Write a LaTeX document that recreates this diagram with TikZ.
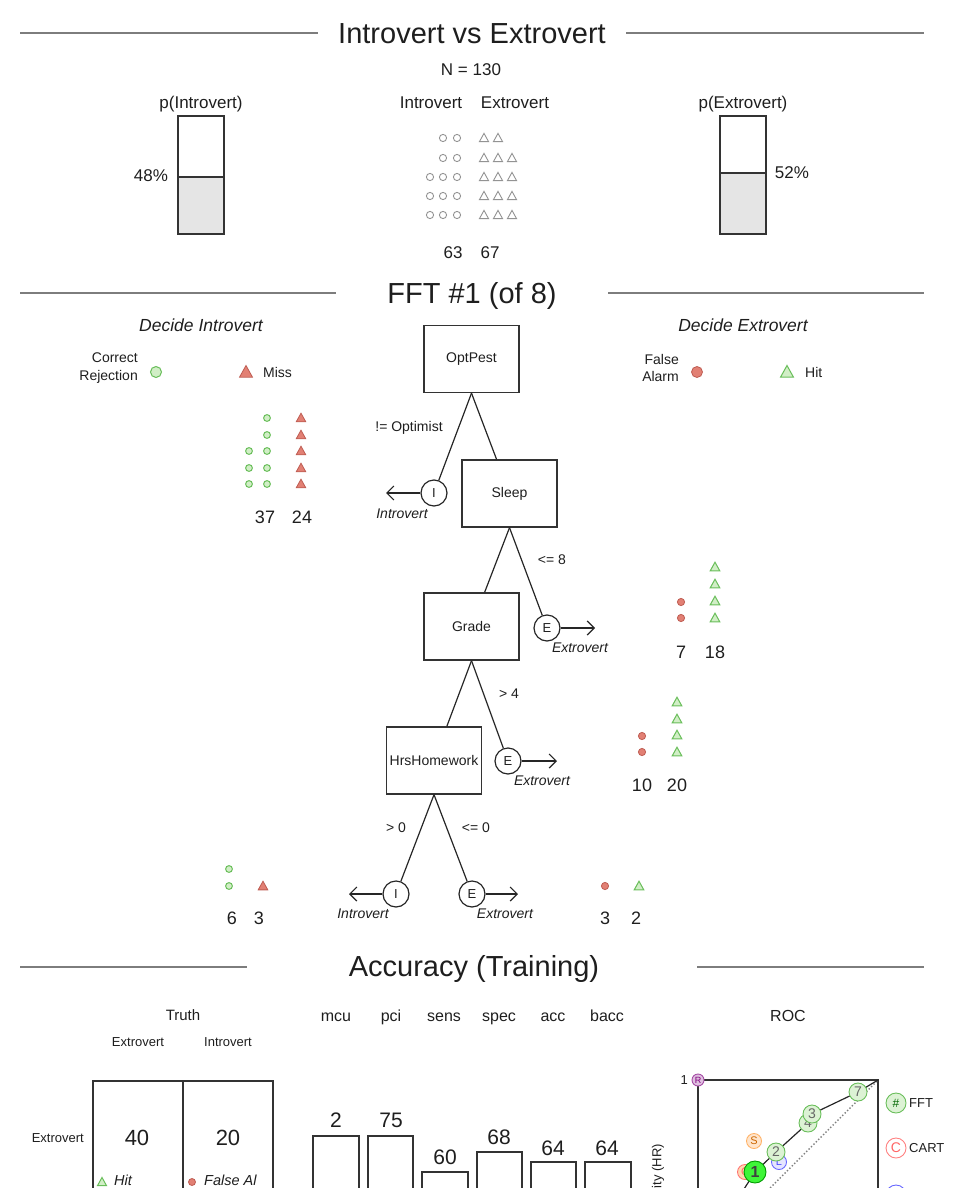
\documentclass[tikz,border=0pt]{standalone}
\usepackage{fontspec}
\setmainfont{Liberation Sans}
\usetikzlibrary{arrows.meta}
\newcommand{\fsz}[1]{\fontsize{#1}{#1}\selectfont}
\newcommand{\icontri}[4]{\draw[#4] ({#1-#3},{#2+0.8*#3}) -- ({#1+#3},{#2+0.8*#3}) -- ({#1},{#2-1.0*#3}) -- cycle;}
\definecolor{gfill}{RGB}{178,226,160}
\definecolor{gline}{RGB}{105,190,90}
\definecolor{rfill}{RGB}{226,128,116}
\definecolor{rline}{RGB}{190,92,82}
\definecolor{hgray}{RGB}{125,125,125}
\definecolor{txt}{RGB}{30,30,30}
\begin{document}
\begin{tikzpicture}[x=1pt,y=-1pt,
  hline/.style={draw=hgray,line width=2.2pt},
  f/.style={font=\fsz{#1},inner sep=0pt,text=txt,anchor=base,yshift={-0.358*#1pt}},
  fi/.style={f=#1,font=\fsz{#1}\itshape},
  tbox/.style={draw=black!80,line width=1.3pt,minimum width=95pt,minimum height=67pt,inner sep=0,font=\fsz{14},text=txt},
  leaf/.style={draw=black!85,circle,line width=1.2pt,minimum size=26pt,inner sep=0,font=\fsz{13},text=txt},
  branch/.style={draw=black!85,line width=1.2pt},
  exitarr/.style={branch,-{Straight Barb[length=7pt,width=14pt,line width=1.2pt]}},
  gicon/.style={draw=gray!85,line width=0.9pt},
  gcirc/.style={draw=gline,fill=gfill!60,line width=1pt},
  rcirc/.style={draw=rline,fill=rfill,line width=0.8pt},
  gtri/.style={draw=gline,fill=gfill!60,line width=1pt},
  rtri/.style={draw=rline,fill=rfill,line width=0.8pt},
  bar/.style={draw=black!80,line width=1.3pt},
  fftpt/.style={circle,draw=gline,fill=gfill!45,line width=0.9pt,minimum size=18pt,inner sep=0,font=\fsz{14},text=black!60},
  algpt/.style={circle,line width=0.9pt,minimum size=15pt,inner sep=0,font=\fsz{11}}
]
\useasboundingbox (0,0) rectangle (962,1188);
\clip (0,0) rectangle (962,1188);

% ---------- Section 1 ----------
\node[f=29] (title1) at (472,33) {Introvert vs Extrovert};
\draw[hline] (20,33) -- (318,33);
\draw[hline] (626,33) -- (924,33);
\node[f=17] (nlab) at (471,69) {N = 130};
\node[f=17] (pint) at (201,102) {p(Introvert)};
\node[f=17] (hint) at (431,102) {Introvert};
\node[f=17] (hext) at (515,102) {Extrovert};
\node[f=17] (pext) at (743,102) {p(Extrovert)};

\fill[gray!20] (178,177) rectangle (224,234);
\draw[bar] (178,116) rectangle (224,234);
\draw[bar] (178,177) -- (224,177);
\node[f=17] (p48) at (151,175) {48\%};
\fill[gray!20] (720,173) rectangle (766,234);
\draw[bar] (720,116) rectangle (766,234);
\draw[bar] (720,173) -- (766,173);
\node[f=17] (p52) at (792,172) {52\%};

\foreach \yy in {138,158} {\foreach \xx in {443,457} {\draw[gicon] (\xx,\yy) circle[radius=3.6];}}
\foreach \yy in {177,196,215} {\foreach \xx in {430,443,457} {\draw[gicon] (\xx,\yy) circle[radius=3.6];}}
\foreach \xx in {484,498} {\icontri{\xx}{138}{4.6}{gicon}}
\foreach \yy in {158,177,196,215} {\foreach \xx in {484,498,512} {\icontri{\xx}{\yy}{4.6}{gicon}}}
\node[f=17] (c63) at (453,252) {63};
\node[f=17] (c67) at (490,252) {67};

% ---------- Section 2 ----------
\node[f=29] (title2) at (472,293) {FFT \#1 (of 8)};
\draw[hline] (20,293) -- (336,293);
\draw[hline] (608,293) -- (924,293);

\node[fi=17.5] (dint) at (201,325) {Decide Introvert};
\node[fi=17.5] (dext) at (743,325) {Decide Extrovert};
\node[inner sep=0,text=txt,align=right,anchor=east,font=\fsz{14}\linespread{1.25}\selectfont] (crlab) at (138,368) {Correct\\Rejection};
\draw[gcirc] (156,372) circle[radius=5.5];
\icontri{246}{372}{6.5}{rtri}
\node[f=14,anchor=base west] (misslab) at (263,372) {Miss};
\node[inner sep=0,text=txt,align=right,anchor=east,font=\fsz{14}\linespread{1.25}\selectfont] (falab) at (679,368) {False\\Alarm};
\draw[rcirc] (697,372) circle[radius=5.5];
\icontri{787}{372}{6.5}{gtri}
\node[f=14,anchor=base west] (hitlab) at (805,372) {Hit};

% tree
\node[tbox] (opt) at (471.5,359) {OptPest};
\node[tbox] (sleep) at (509.5,493.5) {Sleep};
\node[tbox] (grade) at (471.5,626.5) {Grade};
\node[tbox] (hrs) at (434,760.5) {HrsHomework};
\node[leaf] (l1) at (434,493) {I};
\node[leaf] (l2) at (547,628) {E};
\node[leaf] (l3) at (508,761) {E};
\node[leaf] (l4) at (396,894) {I};
\node[leaf] (l5) at (472,894) {E};
\draw[branch] (opt.south) -- (l1);
\draw[branch] (opt.south) -- (sleep);
\draw[branch] (sleep.south) -- (grade);
\draw[branch] (sleep.south) -- (l2);
\draw[branch] (grade.south) -- (hrs);
\draw[branch] (grade.south) -- (l3);
\draw[branch] (hrs.south) -- (l4);
\draw[branch] (hrs.south) -- (l5);
\coordinate (a1) at (386,493);
\coordinate (a2) at (595,628);
\coordinate (a3) at (557,761);
\coordinate (a4) at (349,894);
\coordinate (a5) at (518,894);
\draw[exitarr] (l1.west) -- (a1);
\draw[exitarr] (l2.east) -- (a2);
\draw[exitarr] (l3.east) -- (a3);
\draw[exitarr] (l4.west) -- (a4);
\draw[exitarr] (l5.east) -- (a5);
\node[f=14] (b1) at (409,426) {!= Optimist};
\node[f=14] (b2) at (552,559) {<= 8};
\node[f=14] (b3) at (509,693) {> 4};
\node[f=14] (b4) at (396,827) {> 0};
\node[f=14] (b5) at (476,827) {<= 0};
\node[fi=14] (e1) at (402,513) {Introvert};
\node[fi=14] (e2) at (580,647) {Extrovert};
\node[fi=14] (e3) at (542,780) {Extrovert};
\node[fi=14] (e4) at (363,913) {Introvert};
\node[fi=14] (e5) at (505,913) {Extrovert};

% leaf icon arrays
\foreach \yy in {418,435,451,468,484} {\draw[gcirc] (267,\yy) circle[radius=3.4];}
\foreach \yy in {451,468,484} {\draw[gcirc] (249,\yy) circle[radius=3.4];}
\foreach \yy in {418,435,451,468,484} {\icontri{301}{\yy}{4.8}{rtri}}
\node[f=18] (k37) at (265,517) {37};
\node[f=18] (k24) at (302,517) {24};

\foreach \yy in {602,618} {\draw[rcirc] (681,\yy) circle[radius=3.6];}
\foreach \yy in {567,584,601,618} {\icontri{715}{\yy}{4.8}{gtri}}
\node[f=18] (k7) at (681,652) {7};
\node[f=18] (k18) at (715,652) {18};

\foreach \yy in {736,752} {\draw[rcirc] (642,\yy) circle[radius=3.6];}
\foreach \yy in {702,719,735,752} {\icontri{677}{\yy}{4.8}{gtri}}
\node[f=18] (k10) at (642,785) {10};
\node[f=18] (k20) at (677,785) {20};

\foreach \yy in {869,886} {\draw[gcirc] (229,\yy) circle[radius=3.4];}
\icontri{263}{886}{4.8}{rtri}
\node[f=18] (k6) at (232,918) {6};
\node[f=18] (k3a) at (259,918) {3};
\draw[rcirc] (605,886) circle[radius=3.6];
\icontri{639}{886}{4.8}{gtri}
\node[f=18] (k3b) at (605,918) {3};
\node[f=18] (k2) at (636,918) {2};

% ---------- Section 3 ----------
\node[f=29] (title3) at (474,966) {Accuracy (Training)};
\draw[hline] (20,967) -- (247,967);
\draw[hline] (697,967) -- (924,967);

\node[f=15] (truth) at (183,1015) {Truth};
\node[f=13] (tcext) at (138,1042) {Extrovert};
\node[f=13] (tcint) at (228,1042) {Introvert};
\draw[bar] (93,1081) rectangle (273,1240);
\draw[bar] (183,1081) -- (183,1240);
\node[f=13,anchor=base east] (rowext) at (84,1138) {Extrovert};
\node[f=22] (m40) at (137,1138) {40};
\node[f=22] (m20) at (228,1138) {20};
\icontri{102}{1182}{4.5}{gtri}
\node[fi=14.5,anchor=base west] (hitc) at (114,1180) {Hit};
\draw[rcirc] (192,1182) circle[radius=3.5];
\node[fi=14.5,anchor=base west] (fac) at (204,1180) {False Al};

\node[f=16] (smcu) at (336,1016) {mcu};
\node[f=16] (spci) at (391,1016) {pci};
\node[f=16] (ssens) at (444,1016) {sens};
\node[f=16] (sspec) at (499,1016) {spec};
\node[f=16] (sacc) at (553,1016) {acc};
\node[f=16] (sbacc) at (607,1016) {bacc};
\draw[bar] (313,1240) |- (359,1136) -- (359,1240);
\draw[bar] (368,1240) |- (413,1136) -- (413,1240);
\draw[bar] (422,1240) |- (468,1172) -- (468,1240);
\draw[bar] (477,1240) |- (522,1152) -- (522,1240);
\draw[bar] (531,1240) |- (576,1162) -- (576,1240);
\draw[bar] (585,1240) |- (631,1162) -- (631,1240);
\node[f=21] (vmcu) at (336,1120) {2};
\node[f=21] (vpci) at (391,1120) {75};
\node[f=21] (vsens) at (445,1157) {60};
\node[f=21] (vspec) at (499,1137) {68};
\node[f=21] (vacc) at (553,1148) {64};
\node[f=21] (vbacc) at (607,1148) {64};

% ROC
\node[f=16] (roc) at (788,1016) {ROC};
\draw[bar] (698,1080) rectangle (878,1260);
\node[f=13,anchor=base east] (one) at (688,1080) {1};
\node[font=\fsz{13},text=txt,inner sep=0,rotate=90,anchor=east] (ylab) at (658,1144) {Sensitivity (HR)};
\draw[gray,dotted,line width=1.4pt] (698,1260) -- (878,1080);
\coordinate (r0) at (698,1260);
\coordinate (r1) at (878,1080);
\node[algpt,draw=red!55,fill=orange!30,text=red!60] (algc) at (745,1172) {C};
\node[algpt,draw=orange!60,fill=orange!20,text=orange!80!black] (algs) at (754,1141) {S};
\node[algpt,draw=blue!60,fill=blue!10,text=blue!70] (algl) at (779,1162) {L};
\node[algpt,draw=violet!70,fill=violet!25,text=violet,minimum size=12pt,font=\fsz{9}] (algr) at (698,1080) {R};
\coordinate (q1) at (755,1172);
\coordinate (q2) at (776,1152);
\coordinate (q4) at (808,1123);
\coordinate (q3) at (812,1114);
\coordinate (q7) at (858,1092);
\draw[black!85,line width=1.2pt] (r0) -- (q1) -- (q2) -- (q4) -- (q3) -- (q7) -- (r1);
\node[fftpt] (f7) at (q7) {7};
\node[fftpt] (f4) at (q4) {4};
\node[fftpt] (f3) at (q3) {3};
\node[fftpt] (f2) at (q2) {2};
\node[fftpt,fill=green!65!gfill,draw=green!60!black,minimum size=22pt,font=\fsz{16}\bfseries,text=black!75] (f1) at (q1) {1};

\node[fftpt,minimum size=20pt,font=\fsz{12},text=green!40!black] (lgf) at (896,1103) {\#};
\node[f=13,anchor=base west] (lgft) at (909,1103) {FFT};
\node[algpt,draw=red!50,fill=white,text=red!60,minimum size=20pt,font=\fsz{14}] (lgc) at (896,1148) {C};
\node[f=13,anchor=base west] (lgct) at (909,1148) {CART};
\node[algpt,draw=blue!60,fill=white,text=blue!70,minimum size=20pt,font=\fsz{14}] (lgl) at (896,1195) {L};
\node[f=13,anchor=base west] (lglt) at (909,1195) {LR};
\end{tikzpicture}
\end{document}
